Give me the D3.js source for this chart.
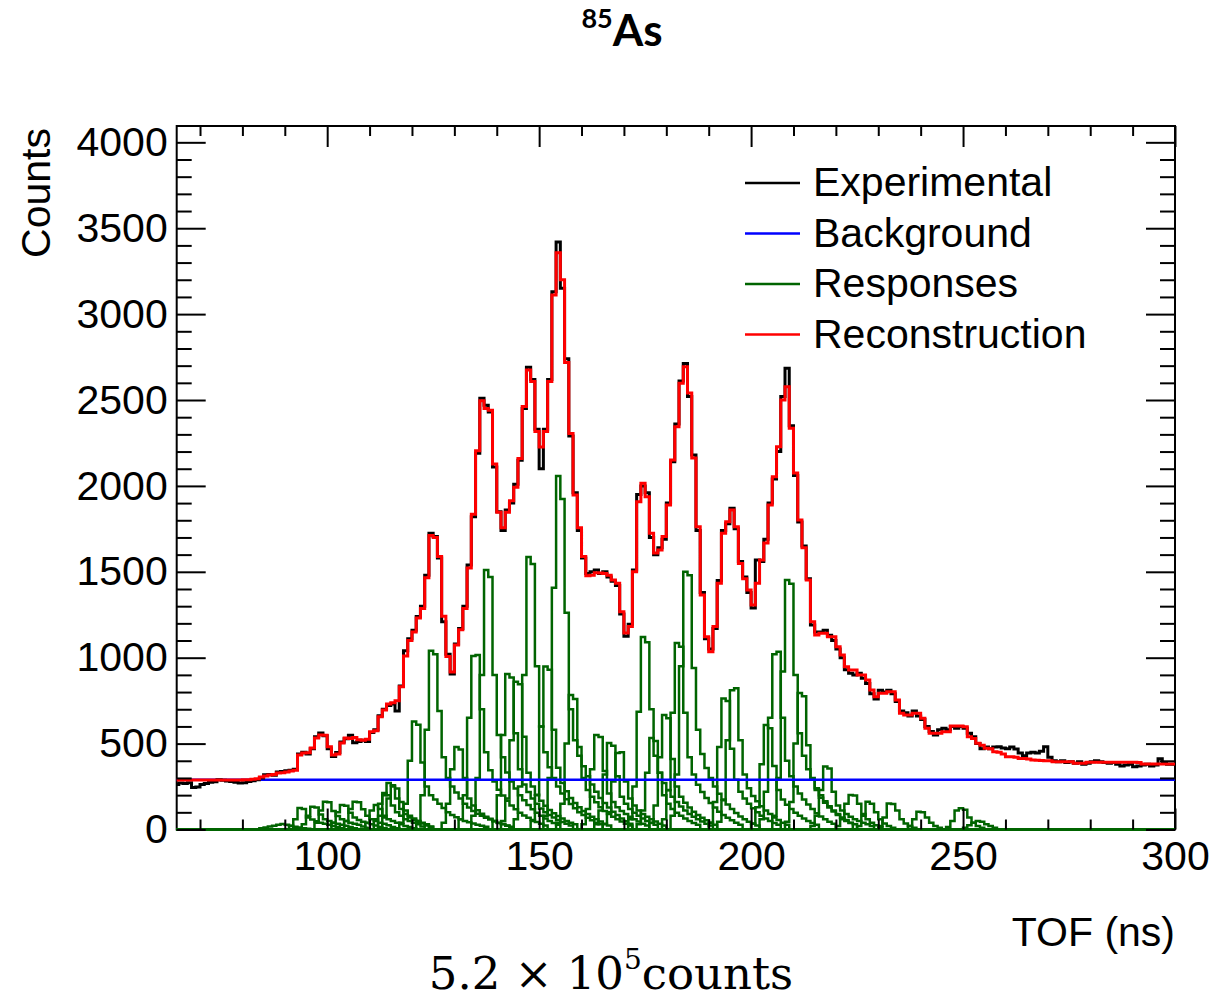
<!DOCTYPE html>
<html>
<head>
<meta charset="utf-8">
<script src="https://cdn.jsdelivr.net/npm/d3@7"></script>
<style>
  html, body { margin: 0; padding: 0; background: #fff; }
  svg { display: block; }
</style>
</head>
<body>
<div id="chart"></div>
<script>
// Canvas size and the frame of the plot (ROOT style, ticks inside)
let width = 1214,
    height = 1000,
    margin = ({ top: 126, right: 39, bottom: 170.5, left: 176.7 });

// 1 ns bins, first bin starts at 64 ns
const binStart = 64;
const binWidth = 1;

// Experimental TOF spectrum (counts per bin)
const experimental = [
  /*64*/  262, 270, 268, 272, 245, 248, 262, 268, 275, 278,
  /*74*/  290, 286, 282, 280, 275, 270, 272, 280, 284, 290,
  /*84*/  300, 318, 320, 316, 335, 338, 342, 345, 350, 440,
  /*94*/  450, 440, 470, 540, 562, 545, 470, 425, 448, 510,
  /*104*/ 528, 548, 505, 512, 520, 512, 565, 580, 662, 700,
  /*114*/ 722, 730, 690, 835, 1040, 1110, 1160, 1240, 1300, 1480,
  /*124*/ 1725, 1705, 1580, 1210, 1020, 905, 1080, 1170, 1300, 1540,
  /*134*/ 1820, 2190, 2510, 2470, 2430, 2110, 1850, 1740, 1860, 1900,
  /*144*/ 2010, 2150, 2450, 2690, 2620, 2330, 2100, 2330, 2620, 3130,
  /*154*/ 3420, 3150, 2740, 2290, 1960, 1740, 1580, 1490, 1500, 1510,
  /*164*/ 1490, 1500, 1470, 1445, 1420, 1255, 1125, 1195, 1510, 1950,
  /*174*/ 2000, 1960, 1700, 1600, 1640, 1690, 1900, 2140, 2360, 2610,
  /*184*/ 2713, 2520, 2180, 1740, 1380, 1110, 1050, 1170, 1450, 1740,
  /*194*/ 1780, 1870, 1750, 1560, 1470, 1380, 1290, 1569, 1560, 1690,
  /*204*/ 1900, 2040, 2200, 2520, 2685, 2350, 2060, 1790, 1650, 1460,
  /*214*/ 1190, 1150, 1150, 1160, 1130, 1100, 1050, 1000, 930, 910,
  /*224*/ 900, 910, 880, 850, 790, 760, 810, 800, 810, 790,
  /*234*/ 745, 690, 680, 660, 690, 660, 640, 600, 570, 550,
  /*244*/ 580, 590, 580, 600, 590, 600, 590, 560, 540, 500,
  /*254*/ 470, 480, 470, 480, 482, 475, 470, 480, 468, 445,
  /*264*/ 430, 445, 450, 445, 455, 482, 420, 400, 395, 400,
  /*274*/ 390, 395, 385, 395, 380, 385, 395, 400, 395, 390,
  /*284*/ 385, 390, 380, 370, 375, 380, 365, 370, 375, 380,
  /*294*/ 370, 375, 412, 385, 380, 380
];

// Reconstruction (fit) spectrum
const reconstruction = [
  /*64*/  288, 288, 288, 288, 288, 288, 288, 288, 288, 288,
  /*74*/  288, 288, 288, 288, 288, 288, 289, 290, 292, 296,
  /*84*/  305, 312, 317, 320, 329, 330, 335, 341, 345, 434,
  /*94*/  445, 447, 474, 533, 550, 548, 482, 434, 440, 503,
  /*104*/ 533, 530, 535, 522, 520, 525, 569, 575, 657, 696,
  /*114*/ 730, 738, 750, 831, 1010, 1100, 1150, 1231, 1287, 1466,
  /*124*/ 1712, 1700, 1589, 1242, 1007, 917, 1074, 1163, 1287, 1522,
  /*134*/ 1835, 2205, 2496, 2451, 2440, 2127, 1847, 1757, 1847, 1914,
  /*144*/ 1992, 2160, 2462, 2675, 2608, 2317, 2227, 2317, 2608, 3111,
  /*154*/ 3357, 3200, 2719, 2305, 1947, 1757, 1589, 1477, 1480, 1495,
  /*164*/ 1493, 1490, 1480, 1452, 1434, 1268, 1144, 1181, 1501, 1908,
  /*174*/ 2016, 1937, 1725, 1609, 1627, 1705, 1889, 2151, 2345, 2597,
  /*184*/ 2694, 2541, 2162, 1763, 1365, 1122, 1035, 1181, 1434, 1725,
  /*194*/ 1792, 1860, 1763, 1549, 1460, 1394, 1307, 1434, 1569, 1667,
  /*204*/ 1889, 2054, 2228, 2500, 2577, 2335, 2075, 1801, 1640, 1452,
  /*214*/ 1210, 1132, 1142, 1142, 1122, 1122, 1064, 1016, 948, 928,
  /*224*/ 928, 899, 899, 870, 812, 773, 793, 793, 802, 802,
  /*234*/ 754, 676, 666, 666, 676, 676, 647, 589, 560, 560,
  /*244*/ 560, 569, 569, 602, 602, 602, 598, 540, 530, 502,
  /*254*/ 490, 473, 470, 453, 450, 440, 424, 424, 420, 414,
  /*264*/ 414, 410, 405, 403, 402, 400, 400, 395, 395, 395,
  /*274*/ 395, 395, 385, 385, 385, 392, 392, 392, 392, 392,
  /*284*/ 392, 392, 392, 392, 392, 392, 392, 390, 381, 381,
  /*294*/ 381, 381, 381, 381, 381, 381
];

// Flat background level
const backgroundLevel = 290;

// Individual response functions: first bin (ns) and counts from there on
const responses = [
  { start: 84,  counts: [8, 12, 18, 22, 28, 32, 28, 22, 16, 12, 8, 5] },
  { start: 91,  counts: [20, 60, 125, 120, 70, 58, 48, 40, 34, 28, 20, 14, 8] },
  { start: 94,  counts: [30, 80, 133, 128, 88, 60, 50, 40, 34, 28, 22, 14, 8] },
  { start: 97,  counts: [40, 110, 162, 158, 108, 78, 60, 50, 40, 34, 28, 18, 10] },
  { start: 101, counts: [40, 100, 143, 138, 98, 70, 55, 45, 38, 30, 24, 15, 8] },
  { start: 104, counts: [50, 120, 162, 158, 118, 80, 60, 50, 40, 34, 25, 15, 8] },
  { start: 109, counts: [40, 110, 143, 120, 80, 60, 50, 40, 30, 20, 15, 8] },
  { start: 111, counts: [60, 150, 212, 200, 140, 100, 80, 60, 50, 40, 30, 18] },
  { start: 112, counts: [80, 200, 270, 258, 180, 120, 90, 70, 55, 45, 35, 24, 14] },
  { start: 113, counts: [70, 180, 250, 238, 160, 110, 80, 64, 50, 40, 30, 18] },
  { start: 117, counts: [40, 150, 400, 628, 610, 390, 250, 200, 175, 150, 125, 100, 85, 72, 60, 50, 42, 35, 28, 22, 16] },
  { start: 121, counts: [50, 200, 580, 1040, 1020, 690, 420, 300, 250, 215, 180, 150, 128, 108, 92, 80, 68, 58, 48, 38, 30, 22, 16] },
  { start: 127, counts: [40, 150, 350, 480, 465, 300, 180, 140, 112, 92, 74, 62, 50, 40, 32, 24] },
  { start: 131, counts: [60, 200, 650, 1010, 1016, 700, 450, 345, 280, 232, 198, 168, 140, 118, 98, 82, 68, 56, 44, 34, 24] },
  { start: 134, counts: [80, 300, 900, 1510, 1470, 900, 550, 420, 332, 280, 238, 200, 170, 142, 118, 98, 80, 64, 50, 38, 28] },
  { start: 139, counts: [50, 200, 550, 905, 885, 560, 350, 262, 218, 180, 150, 122, 100, 84, 70, 56, 44, 34, 24] },
  { start: 141, counts: [50, 180, 520, 860, 845, 540, 330, 250, 202, 168, 138, 114, 95, 78, 64, 50, 40, 30] },
  { start: 144, counts: [60, 250, 900, 1586, 1545, 950, 600, 450, 362, 300, 250, 210, 176, 148, 124, 100, 84, 68, 54, 40, 30] },
  { start: 148, counts: [50, 200, 600, 949, 930, 580, 360, 270, 222, 184, 154, 130, 108, 90, 74, 60, 46, 34, 24] },
  { start: 151, counts: [80, 300, 1407, 2057, 1924, 1262, 700, 520, 430, 368, 310, 262, 220, 184, 154, 128, 104, 84, 64, 48, 34] },
  { start: 154, counts: [40, 150, 500, 783, 760, 480, 300, 230, 190, 158, 130, 108, 90, 74, 60, 46, 34, 24] },
  { start: 160, counts: [30, 120, 350, 550, 538, 340, 210, 160, 130, 108, 90, 74, 60, 46, 34, 24] },
  { start: 163, counts: [30, 110, 320, 503, 488, 310, 190, 150, 120, 98, 80, 64, 50, 38, 28] },
  { start: 165, counts: [30, 100, 280, 445, 450, 280, 180, 140, 110, 90, 74, 60, 46, 34, 24] },
  { start: 171, counts: [60, 250, 686, 1120, 1090, 700, 430, 330, 270, 228, 190, 160, 134, 110, 90, 74, 60, 46, 34, 24] },
  { start: 173, counts: [30, 110, 330, 532, 515, 330, 200, 150, 120, 98, 80, 64, 50, 38, 28] },
  { start: 176, counts: [40, 140, 420, 666, 648, 410, 250, 190, 155, 128, 104, 85, 68, 54, 40, 28] },
  { start: 179, counts: [60, 230, 680, 1085, 1064, 680, 420, 320, 260, 218, 184, 154, 128, 104, 85, 68, 54, 40, 28] },
  { start: 181, counts: [80, 320, 950, 1501, 1480, 940, 580, 440, 358, 300, 250, 208, 174, 145, 120, 96, 76, 60, 45, 34, 24] },
  { start: 190, counts: [40, 160, 480, 763, 748, 470, 290, 220, 180, 150, 124, 100, 80, 64, 50, 38, 28] },
  { start: 192, counts: [45, 170, 520, 810, 822, 520, 320, 240, 195, 164, 135, 110, 90, 70, 55, 40, 28] },
  { start: 200, counts: [35, 130, 380, 608, 590, 370, 230, 175, 144, 120, 98, 80, 64, 50, 38, 28] },
  { start: 202, counts: [60, 220, 650, 1020, 1035, 650, 400, 310, 250, 210, 175, 145, 120, 95, 76, 60, 45, 34] },
  { start: 205, counts: [80, 300, 920, 1452, 1430, 900, 560, 430, 350, 290, 240, 200, 165, 136, 110, 90, 70, 55, 40, 30] },
  { start: 208, counts: [45, 160, 500, 794, 776, 490, 300, 230, 185, 155, 128, 105, 85, 66, 50, 38] },
  { start: 214, counts: [20, 80, 230, 366, 355, 220, 140, 110, 90, 74, 60, 50, 40, 30, 20] },
  { start: 220, counts: [20, 60, 150, 201, 198, 150, 90, 60, 40, 25, 15] },
  { start: 225, counts: [20, 80, 162, 150, 100, 60, 35, 20, 10] },
  { start: 230, counts: [20, 70, 152, 148, 110, 60, 35, 20, 10] },
  { start: 237, counts: [20, 60, 104, 100, 70, 40, 20, 10] },
  { start: 246, counts: [15, 50, 110, 123, 115, 70, 40, 20, 10] },
  { start: 250, counts: [10, 25, 40, 50, 45, 30, 20, 10] }
];

// Tick labels
const xTickLabels = [100, 150, 200, 250, 300];
const yTickLabels = [0, 500, 1000, 1500, 2000, 2500, 3000, 3500, 4000];

// Legend entries
const legendLabels = ["Experimental", "Background", "Responses", "Reconstruction"];
const legendColors = ["#000000", "#0000ff", "#006400", "#ff0000"];

const svg = d3.select("#chart")
  .append("svg")
  .attr("width", width)
  .attr("height", height)
  .attr("viewBox", [0, 0, width, height]);

// Scales
let x = d3.scaleLinear()
  .domain([64.5, 300])
  .range([margin.left, width - margin.right]);

let y = d3.scaleLinear()
  .domain([0, 4095])
  .range([height - margin.bottom, margin.top]);

// histogram outline: one point per bin edge, step-after
const nBins = experimental.length;
function stepPoints(values) {
  const pts = values.map((v, i) => [binStart + i * binWidth, v]);
  pts.push([binStart + values.length * binWidth, values[values.length - 1]]);
  return pts;
}
const histLine = d3.line()
  .x(d => x(d[0]))
  .y(d => y(d[1]))
  .curve(d3.curveStepAfter);

// clip to the frame (a little room below so the zero line shows)
svg.append("clipPath").attr("id", "plot-clip")
  .append("rect")
  .attr("x", margin.left)
  .attr("y", margin.top)
  .attr("width", width - margin.right - margin.left)
  .attr("height", height - margin.bottom - margin.top + 3);

// Frame
svg.append("rect")
  .attr("x", margin.left)
  .attr("y", margin.top)
  .attr("width", width - margin.right - margin.left)
  .attr("height", height - margin.bottom - margin.top)
  .attr("fill", "none")
  .attr("stroke", "#000")
  .attr("stroke-width", 2);

const plot = svg.append("g").attr("clip-path", "url(#plot-clip)");

// responses, each drawn over the full range (zero outside its bins)
responses.forEach(r => {
  const full = new Array(nBins).fill(0);
  r.counts.forEach((c, k) => {
    const idx = r.start - binStart + k;
    if (idx >= 0 && idx < nBins) full[idx] = c;
  });
  plot.append("path")
    .attr("d", histLine(stepPoints(full)))
    .attr("fill", "none")
    .attr("stroke", legendColors[2])
    .attr("stroke-width", 2.5);
});

// background line
plot.append("path")
  .attr("d", histLine(stepPoints(new Array(nBins).fill(backgroundLevel))))
  .attr("fill", "none")
  .attr("stroke", legendColors[1])
  .attr("stroke-width", 2.6);

// experimental
plot.append("path")
  .attr("d", histLine(stepPoints(experimental)))
  .attr("fill", "none")
  .attr("stroke", legendColors[0])
  .attr("stroke-width", 3);

// reconstruction on top
plot.append("path")
  .attr("d", histLine(stepPoints(reconstruction)))
  .attr("fill", "none")
  .attr("stroke", legendColors[3])
  .attr("stroke-width", 3);

// Axes: major and minor ticks on all four sides, pointing inward
const fontMain = "'Liberation Sans', Arial, Helvetica, sans-serif";
const xMinor = d3.range(70, 300, 10).filter(v => v % 50 !== 0);
const yMinor = d3.range(100, 4095, 100).filter(v => v % 500 !== 0);
const plotBottom = height - margin.bottom;
const plotRight = width - margin.right;

function styleAxis(g) {
  g.select(".domain").remove();
  g.selectAll(".tick line").attr("stroke", "#000").attr("stroke-width", 2);
  g.attr("font-family", fontMain).attr("font-size", 41);
  g.selectAll(".tick text").attr("fill", "#000");
}

svg.append("g")
  .attr("class", "x-axis")
  .attr("transform", `translate(0,${plotBottom})`)
  .call(d3.axisBottom(x).tickValues(xTickLabels).tickSize(-21).tickSizeOuter(0)
    .tickPadding(11).tickFormat(d3.format("d")))
  .call(styleAxis);
svg.append("g")
  .attr("transform", `translate(0,${plotBottom})`)
  .call(d3.axisBottom(x).tickValues(xMinor).tickSize(-10).tickSizeOuter(0).tickFormat(""))
  .call(styleAxis);
svg.append("g")
  .attr("transform", `translate(0,${margin.top})`)
  .call(d3.axisTop(x).tickValues(xTickLabels).tickSize(-21).tickSizeOuter(0).tickFormat(""))
  .call(styleAxis);
svg.append("g")
  .attr("transform", `translate(0,${margin.top})`)
  .call(d3.axisTop(x).tickValues(xMinor).tickSize(-10).tickSizeOuter(0).tickFormat(""))
  .call(styleAxis);

svg.append("g")
  .attr("class", "y-axis")
  .attr("transform", `translate(${margin.left},0)`)
  .call(d3.axisLeft(y).tickValues(yTickLabels).tickSize(-29).tickSizeOuter(0)
    .tickPadding(9).tickFormat(d3.format("d")))
  .call(styleAxis);
svg.append("g")
  .attr("transform", `translate(${margin.left},0)`)
  .call(d3.axisLeft(y).tickValues(yMinor).tickSize(-15).tickSizeOuter(0).tickFormat(""))
  .call(styleAxis);
svg.append("g")
  .attr("transform", `translate(${plotRight},0)`)
  .call(d3.axisRight(y).tickValues(yTickLabels).tickSize(-29).tickSizeOuter(0).tickFormat(""))
  .call(styleAxis);
svg.append("g")
  .attr("transform", `translate(${plotRight},0)`)
  .call(d3.axisRight(y).tickValues(yMinor).tickSize(-15).tickSizeOuter(0).tickFormat(""))
  .call(styleAxis);

// Axis titles
svg.append("text")
  .attr("x", plotRight)
  .attr("y", 946)
  .attr("text-anchor", "end")
  .attr("font-family", fontMain)
  .attr("font-size", 41)
  .text("TOF (ns)");

svg.append("text")
  .attr("transform", `translate(50,${margin.top + 2}) rotate(-90)`)
  .attr("text-anchor", "end")
  .attr("font-family", fontMain)
  .attr("font-size", 41)
  .text("Counts");

// Legend
const legend = svg.append("g").attr("class", "legend");
legendLabels.forEach((label, i) => {
  const ly = 183 + i * 50.5;
  legend.append("line")
    .attr("x1", 745).attr("x2", 800)
    .attr("y1", ly).attr("y2", ly)
    .attr("stroke", legendColors[i])
    .attr("stroke-width", 2.6);
  legend.append("text")
    .attr("x", 813)
    .attr("y", ly + 13)
    .attr("font-family", fontMain)
    .attr("font-size", 41)
    .text(label);
});

// Title: superscript mass number
const title = svg.append("text")
  .attr("x", 622)
  .attr("y", 46)
  .attr("text-anchor", "middle")
  .attr("font-family", "Lato, 'Open Sans', sans-serif")
  .attr("font-weight", "bold");
title.append("tspan").attr("font-size", 27).attr("dy", -18).text("85");
title.append("tspan").attr("font-size", 44).attr("dy", 18).text("As");

// Total counts note under the plot
const note = svg.append("text")
  .attr("x", 611)
  .attr("y", 989)
  .attr("text-anchor", "middle")
  .attr("font-family", "'DejaVu Serif', 'Liberation Serif', serif")
  .attr("font-size", 45);
note.append("tspan").text("5.2 × 10");
note.append("tspan").attr("font-size", 28).attr("dy", -20).text("5");
note.append("tspan").attr("dy", 20).text("counts");
</script>
</body>
</html>
